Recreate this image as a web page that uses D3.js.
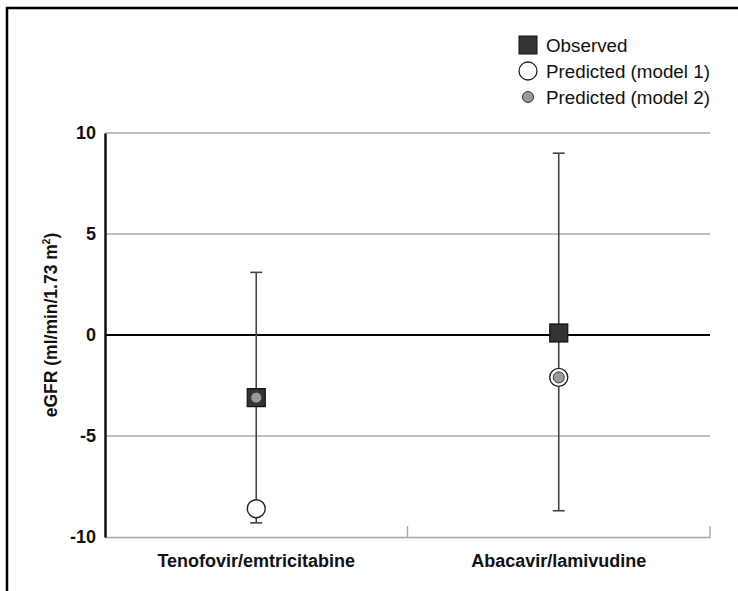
<!DOCTYPE html>
<html>
<head>
<meta charset="utf-8">
<script src="https://cdn.jsdelivr.net/npm/d3@7"></script>
<style>
  body { margin: 0; background: #fff; }
  svg { display: block; font-family: "Liberation Sans", Arial, sans-serif; }
</style>
</head>
<body>
<div id="container"></div>
<script>
/* DATA */
const regimens = ["Tenofovir/emtricitabine", "Abacavir/lamivudine"];
const observed = [-3.1, 0.1];
const ciLow = [-9.3, -8.7];
const ciHigh = [3.1, 9.0];
const predModel1 = [-8.6, -2.1];
const predModel2 = [-3.1, -2.1];
const yTicks = [10, 5, 0, -5, -10];

/* CONSTANTS */
const width = 738;
const height = 591;
const margin = { top: 133, right: 28, bottom: 54, left: 105 };

const svg = d3.select("#container")
  .append("svg")
  .attr("width", width)
  .attr("height", height);

// frame
svg.append("rect")
  .attr("x", 7).attr("y", 8)
  .attr("width", 760).attr("height", 620)
  .attr("fill", "none")
  .attr("stroke", "#000")
  .attr("stroke-width", 2.5);

/* SCALES */
const xScale = d3.scaleBand()
  .domain(regimens)
  .range([margin.left, width - margin.right]);

const yScale = d3.scaleLinear()
  .domain([-10, 10])
  .range([height - margin.bottom, margin.top]);

const cx = (d, i) => xScale(regimens[i]) + xScale.bandwidth() / 2;

// gridlines
svg.append("g")
  .selectAll("line")
  .data(yTicks.filter(d => d !== -10))
  .join("line")
  .attr("x1", margin.left)
  .attr("x2", width - margin.right)
  .attr("y1", d => yScale(d))
  .attr("y2", d => yScale(d))
  .attr("stroke", d => d === 0 ? "#000" : "#a8a8a8")
  .attr("stroke-width", d => d === 0 ? 2.2 : 1.4);

// x axis
const xAxis = d3.axisBottom(xScale).tickSize(0).tickPadding(17);
const gx = svg.append("g")
  .attr("transform", `translate(0, ${yScale(-10)})`)
  .call(xAxis);
gx.select(".domain").attr("stroke", "#a8a8a8").attr("stroke-width", 1.4);
gx.selectAll("text")
  .attr("font-family", "Liberation Sans, Arial, sans-serif")
  .attr("font-size", 18)
  .attr("font-weight", "bold")
  .attr("fill", "#111");

// separators on x axis
svg.append("g")
  .selectAll("line")
  .data(regimens)
  .join("line")
  .attr("x1", d => xScale(d) + xScale.bandwidth())
  .attr("x2", d => xScale(d) + xScale.bandwidth())
  .attr("y1", yScale(-10))
  .attr("y2", yScale(-10) - 11)
  .attr("stroke", "#a8a8a8")
  .attr("stroke-width", 1.4);

// y axis
const yAxis = d3.axisLeft(yScale).tickValues(yTicks).tickSize(0).tickPadding(9)
  .tickFormat(d => String(d));
const gy = svg.append("g")
  .attr("transform", `translate(${margin.left}, 0)`)
  .call(yAxis);
gy.select(".domain").attr("stroke", "#111").attr("stroke-width", 2.5);
gy.selectAll("text")
  .attr("font-family", "Liberation Sans, Arial, sans-serif")
  .attr("font-size", 18)
  .attr("font-weight", "bold")
  .attr("fill", "#111");

// y title
svg.append("text")
  .attr("transform", `translate(57, 325) rotate(-90)`)
  .attr("text-anchor", "middle")
  .attr("font-size", 17.5)
  .attr("font-weight", "bold")
  .attr("fill", "#111")
  .html('eGFR (ml/min/1.73 m<tspan dy="-7" font-size="10">2</tspan><tspan dy="7">)</tspan>');

// error bars
const capW = 6;
const bars = svg.append("g").attr("stroke", "#444").attr("stroke-width", 1.6);
bars.selectAll(".whisker")
  .data(regimens)
  .join("line")
  .attr("x1", cx).attr("x2", cx)
  .attr("y1", (d, i) => yScale(ciHigh[i]))
  .attr("y2", (d, i) => yScale(ciLow[i]));
bars.selectAll(".capTop")
  .data(regimens)
  .join("line")
  .attr("class", "capTop")
  .attr("x1", (d, i) => cx(d, i) - capW).attr("x2", (d, i) => cx(d, i) + capW)
  .attr("y1", (d, i) => yScale(ciHigh[i]))
  .attr("y2", (d, i) => yScale(ciHigh[i]));
bars.selectAll(".capLow")
  .data(regimens)
  .join("line")
  .attr("class", "capLow")
  .attr("x1", (d, i) => cx(d, i) - capW).attr("x2", (d, i) => cx(d, i) + capW)
  .attr("y1", (d, i) => yScale(ciLow[i]))
  .attr("y2", (d, i) => yScale(ciLow[i]));

// observed squares
const sq = 18;
svg.append("g")
  .selectAll("rect")
  .data(observed)
  .join("rect")
  .attr("x", (d, i) => cx(d, i) - sq / 2)
  .attr("y", d => yScale(d) - sq / 2)
  .attr("width", sq).attr("height", sq)
  .attr("fill", "#333")
  .attr("stroke", "#111")
  .attr("stroke-width", 1.2);

// predicted model 1
svg.append("g")
  .selectAll("circle")
  .data(predModel1)
  .join("circle")
  .attr("cx", (d, i) => cx(d, i))
  .attr("cy", d => yScale(d))
  .attr("r", 9)
  .attr("fill", "#fff")
  .attr("stroke", "#222")
  .attr("stroke-width", 1.4);

// predicted model 2
svg.append("g")
  .selectAll("circle")
  .data(predModel2)
  .join("circle")
  .attr("cx", (d, i) => cx(d, i))
  .attr("cy", d => yScale(d))
  .attr("r", 5.5)
  .attr("fill", "#9a9a9a")
  .attr("stroke", "#333")
  .attr("stroke-width", 1);

// legend
const legendItems = ["Observed", "Predicted (model 1)", "Predicted (model 2)"];
const legend = svg.append("g").attr("transform", "translate(528, 45)");
legendItems.forEach((label, i) => {
  const g = legend.append("g").attr("transform", `translate(0, ${i * 26})`);
  if (i === 0) {
    g.append("rect").attr("x", -9).attr("y", -9).attr("width", 18).attr("height", 18)
      .attr("fill", "#333").attr("stroke", "#111");
  } else if (i === 1) {
    g.append("circle").attr("r", 9).attr("fill", "#fff").attr("stroke", "#222").attr("stroke-width", 1.3);
  } else {
    g.append("circle").attr("r", 5.5).attr("fill", "#9a9a9a").attr("stroke", "#333");
  }
  g.append("text")
    .attr("x", 18)
    .attr("dy", "0.35em")
    .attr("font-size", 18.8)
    .attr("fill", "#111")
    .text(label);
});
</script>
</body>
</html>
